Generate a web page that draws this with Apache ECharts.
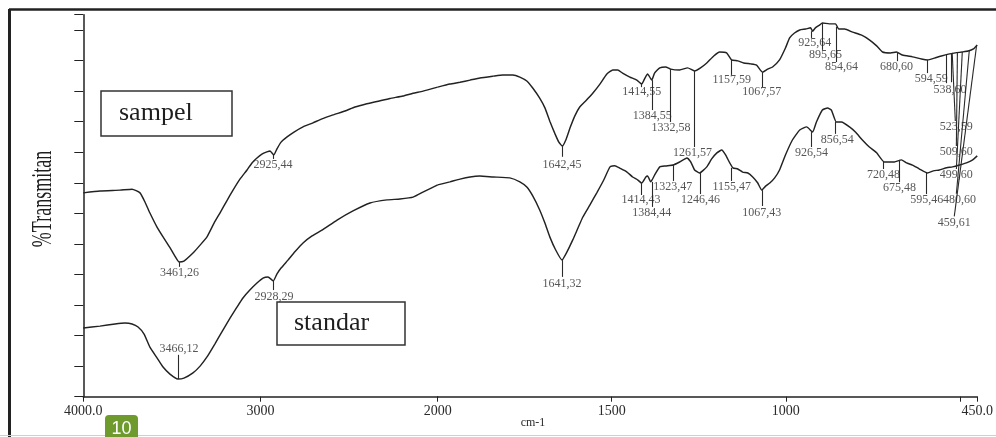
<!DOCTYPE html>
<html>
<head>
<meta charset="utf-8">
<script src="https://cdn.jsdelivr.net/npm/echarts@6/dist/echarts.min.js"></script>
<style>
html,body{margin:0;padding:0;background:#fff;}
#chart{width:996px;height:437px;}
</style>
</head>
<body>
<div id="chart"></div>
<script>
// ---- data (wavenumber cm-1, transmittance in axis-tick units) ----
var sampelHigh = [[4000,6.67],[3906,6.73],[3793,6.76],[3725,6.79],[3680,6.67],[3652,6.37],[3624,6.01],[3584,5.55],[3550,5.23],[3510,4.87],[3483,4.60],[3460,4.41],[3432,4.44],[3381,4.70],[3341,4.96],[3302,5.23],[3262,5.68],[3229,6.01],[3190,6.41],[3155,6.76],[3116,7.12],[3076,7.42],[3048,7.65],[3020,7.81],[2992,7.94],[2964,8.01],[2946,8.04],[2925,7.91],[2907,8.11],[2884,8.33],[2850,8.50],[2811,8.66],[2760,8.83],[2704,8.96],[2653,9.09],[2591,9.22],[2523,9.35],[2467,9.48],[2405,9.58],[2343,9.66],[2269,9.76],[2196,9.84],[2139,9.93],[2083,10.00],[2000,10.13]];
var sampelLow = [[2000,10.13],[1965,10.23],[1936,10.29],[1907,10.36],[1879,10.43],[1841,10.49],[1813,10.53],[1784,10.53],[1764,10.46],[1744,10.33],[1727,10.10],[1707,9.77],[1692,9.45],[1677,8.99],[1663,8.60],[1652,8.33],[1642,8.20],[1632,8.40],[1620,8.79],[1606,9.19],[1592,9.48],[1575,9.68],[1554,9.94],[1534,10.23],[1514,10.56],[1497,10.69],[1483,10.69],[1469,10.59],[1448,10.46],[1428,10.36],[1414,10.23],[1405,10.42],[1397,10.56],[1385,10.36],[1377,10.59],[1362,10.76],[1345,10.79],[1331,10.72],[1305,10.69],[1282,10.76],[1262,10.66],[1245,10.76],[1227,10.92],[1207,11.15],[1190,11.28],[1170,11.25],[1156,11.02],[1138,10.99],[1121,10.92],[1101,10.89],[1084,10.85],[1067,10.62],[1052,10.72],[1038,10.79],[1018,11.02],[1001,11.41],[989,11.74],[975,11.90],[960,12.00],[943,12.03],[929,12.07],[923,11.96],[915,12.07],[903,12.16],[895,12.23],[875,12.20],[857,12.20],[848,12.03],[831,12.03],[808,11.93],[782,11.83],[759,11.67],[739,11.48],[722,11.28],[699,11.25],[682,11.28],[665,11.18],[636,11.12],[610,11.05],[593,11.02],[573,11.08],[553,11.15],[533,11.21],[513,11.25],[493,11.28],[476,11.31],[461,11.38],[450,11.51]];
var standarHigh = [[4000,2.25],[3906,2.31],[3821,2.38],[3765,2.41],[3725,2.38],[3691,2.28],[3657,2.05],[3624,1.62],[3584,1.27],[3550,0.97],[3511,0.74],[3466,0.58],[3432,0.61],[3381,0.78],[3341,1.00],[3302,1.30],[3257,1.73],[3212,2.18],[3172,2.57],[3133,2.93],[3099,3.23],[3060,3.49],[3020,3.72],[2986,3.88],[2958,3.92],[2928,3.79],[2907,4.02],[2884,4.21],[2845,4.47],[2806,4.74],[2760,5.03],[2709,5.26],[2653,5.45],[2568,5.78],[2478,6.08],[2382,6.34],[2286,6.44],[2213,6.47],[2139,6.53],[2072,6.73],[2000,6.93]];
var standarLow = [[2000,6.93],[1965,7.03],[1936,7.12],[1907,7.19],[1879,7.22],[1841,7.19],[1793,7.16],[1764,7.03],[1744,6.86],[1727,6.57],[1707,6.11],[1692,5.68],[1678,5.23],[1661,4.80],[1643,4.47],[1629,4.73],[1612,5.13],[1597,5.52],[1583,5.88],[1563,6.27],[1543,6.67],[1523,7.09],[1505,7.52],[1491,7.56],[1477,7.48],[1457,7.36],[1440,7.19],[1425,7.09],[1414,6.99],[1402,7.19],[1397,7.22],[1388,7.03],[1377,7.25],[1362,7.52],[1345,7.55],[1324,7.58],[1305,7.68],[1284,7.81],[1273,7.68],[1262,7.42],[1248,7.32],[1227,7.52],[1213,7.78],[1198,7.98],[1184,8.07],[1173,7.91],[1161,7.65],[1152,7.49],[1138,7.45],[1124,7.35],[1109,7.32],[1095,7.19],[1081,7.00],[1069,6.76],[1058,6.89],[1046,6.99],[1032,7.16],[1018,7.42],[1001,7.91],[981,8.40],[960,8.73],[940,8.83],[923,8.66],[912,8.99],[895,9.38],[880,9.45],[869,9.38],[855,8.99],[840,8.99],[817,8.83],[800,8.66],[780,8.40],[760,8.17],[739,7.98],[717,7.68],[702,7.68],[688,7.68],[668,7.75],[653,7.65],[636,7.58],[616,7.45],[593,7.32],[576,7.39],[559,7.42],[538,7.49],[521,7.52],[501,7.58],[481,7.65],[463,7.75],[450,7.88]];

// peak annotations: [text, leaderW1, leaderY1, leaderW2, leaderY2, textW, textY]
var peaksHigh = [
  ['3461,26',3461.26,4.41,3461.26,4.25,3457,4.05],
  ['2925,44',2925.44,7.91,2925.44,7.78,2929,7.58],
  ['3466,12',3466.12,0.58,3466.12,1.37,3460,1.56],
  ['2928,29',2928.29,3.79,2928.29,3.49,2924,3.26]
];
var peaksLow = [
  ['1642,45',1642.45,8.20,1642.45,7.85,1643,7.60],
  ['1414,55',1414.55,10.23,1414.55,10.13,1414,9.97],
  ['1384,55',1384.55,10.36,1384.55,9.38,1384,9.20],
  ['1332,58',1332.58,10.72,1332.58,8.99,1330,8.79],
  ['1261,57',1261.57,10.66,1261.57,8.17,1268,7.97],
  ['1157,59',1157.59,11.02,1157.59,10.53,1155,10.36],
  ['1067,57',1067.57,10.62,1067.57,10.13,1069,9.97],
  ['925,64',925.64,11.96,925.64,11.74,917,11.57],
  ['895,65',895.65,12.23,895.65,11.35,886,11.18],
  ['854,64',854.64,12.10,854.64,10.95,840,10.79],
  ['680,60',680.6,11.28,680.6,10.98,682,10.79],
  ['594,59',594.59,11.02,594.59,10.59,582,10.40],
  ['538,60',538.6,11.20,538.6,10.26,528,10.04],
  ['',525,11.24,525,10.29,null,null],
  ['523,59',522,11.25,513,9.02,510,8.83],
  ['509,60',507,11.27,510,8.20,510,8.01],
  ['499,60',493,11.28,510,7.45,510,7.26],
  ['480,60',473,11.31,510,6.64,501,6.44],
  ['459,61',452,11.48,516,5.90,516,5.68],
  ['1641,32',1641.32,4.47,1641.32,3.92,1643,3.69],
  ['1414,43',1414.43,6.99,1414.43,6.60,1416,6.43],
  ['1384,44',1384.44,7.03,1384.44,6.21,1385,6.01],
  ['1323,47',1323.47,7.58,1323.47,7.06,1325,6.86],
  ['1246,46',1246.46,7.32,1246.46,6.63,1245,6.43],
  ['1155,47',1155.47,7.49,1155.47,7.06,1155,6.86],
  ['1067,43',1067.43,6.76,1067.43,6.24,1069,6.01],
  ['926,54',926.54,8.66,926.54,8.17,926,7.97],
  ['856,54',856.54,8.99,856.54,8.60,852,8.40],
  ['720,48',720.48,7.68,720.48,7.45,719,7.26],
  ['675,48',675.48,7.75,675.48,7.02,673,6.83],
  ['595,46',595.46,7.32,595.46,6.63,595,6.44]
];
var xTicksHigh = [4000, 3000];
var xTicksLow = [2000, 1500, 1000, 500, 450];
var xLabelsLow = [2000, 1500, 1000, 450];
var yTicks = [0,1,2,3,4,5,6,7,8,9,10,11,12,12.5];

var SERIF = "'Liberation Serif','DejaVu Serif',serif";
var INK = '#222';

function leaders(arr){
  return arr.map(function(p){return [{coord:[p[1],p[2]]},{coord:[p[3],p[4]]}];});
}
function texts(arr){
  return arr.filter(function(p){return p[0];}).map(function(p){
    return {value:[p[5],p[6]], label:{formatter:p[0]}};
  });
}
var lineStyle = {color:INK, width:1.45};
var mlCommon = {symbol:['none','none'], silent:true, animation:false, label:{show:false},
  lineStyle:{color:'#2a2a2a', width:1.1, type:'solid'}, emphasis:{disabled:true}};
var labelSeries = function(idx, arr){
  return {type:'scatter', xAxisIndex:idx, yAxisIndex:idx, symbolSize:1, silent:true,
    itemStyle:{color:'rgba(0,0,0,0)'}, data:texts(arr), z:5,
    label:{show:true, position:'inside', fontFamily:SERIF, fontSize:12, color:'#2a2a2a'}};
};

var chart = echarts.init(document.getElementById('chart'), null, {renderer:'canvas'});
var axisLineStyle = {color:'#222', width:1.5};
chart.setOption({
  animation:false,
  backgroundColor:'#fff',
  grid:[
    {left:83.3, top:14.7, width:354.4, height:382},
    {left:437.7, top:14.7, width:540.3, height:382}
  ],
  xAxis:[
    {type:'value', gridIndex:0, min:2000, max:4000, inverse:true,
     axisLine:{show:true, lineStyle:axisLineStyle},
     axisTick:{show:true, length:5, customValues:xTicksHigh, lineStyle:{color:'#222'}},
     axisLabel:{show:true, customValues:xTicksHigh, fontFamily:SERIF, fontSize:14, color:'#2a2a2a', margin:8,
       formatter:function(v){return v===4000?'4000.0':String(v);}},
     splitLine:{show:false}},
    {type:'value', gridIndex:1, min:450, max:2000, inverse:true,
     axisLine:{show:true, lineStyle:axisLineStyle},
     axisTick:{show:true, length:5, customValues:xTicksLow, lineStyle:{color:'#222'}},
     axisLabel:{show:true, customValues:xLabelsLow, fontFamily:SERIF, fontSize:14, color:'#2a2a2a', margin:8,
       formatter:function(v){return v===450?'450.0':String(v);}},
     splitLine:{show:false}}
  ],
  yAxis:[
    {type:'value', gridIndex:0, min:0, max:12.5,
     axisLine:{show:true, lineStyle:axisLineStyle},
     axisTick:{show:true, length:9, customValues:yTicks, lineStyle:{color:'#222'}},
     axisLabel:{show:false}, splitLine:{show:false}},
    {type:'value', gridIndex:1, min:0, max:12.5, show:false, splitLine:{show:false}}
  ],
  series:[
    {type:'line', name:'sampel', xAxisIndex:0, yAxisIndex:0, data:sampelHigh, showSymbol:false, smooth:0.15, lineStyle:lineStyle,
     markLine:Object.assign({data:leaders(peaksHigh)}, mlCommon)},
    {type:'line', name:'sampel', xAxisIndex:1, yAxisIndex:1, data:sampelLow, showSymbol:false, smooth:0.15, lineStyle:lineStyle,
     markLine:Object.assign({data:leaders(peaksLow)}, mlCommon)},
    {type:'line', name:'standar', xAxisIndex:0, yAxisIndex:0, data:standarHigh, showSymbol:false, smooth:0.15, lineStyle:lineStyle},
    {type:'line', name:'standar', xAxisIndex:1, yAxisIndex:1, data:standarLow, showSymbol:false, smooth:0.15, lineStyle:lineStyle},
    labelSeries(0, peaksHigh),
    labelSeries(1, peaksLow)
  ],
  graphic:[
    {type:'line', shape:{x1:9, y1:9.5, x2:996, y2:9.5}, style:{stroke:'#222', lineWidth:2.5}},
    {type:'line', shape:{x1:9.5, y1:9, x2:9.5, y2:437}, style:{stroke:'#222', lineWidth:3}},
    {type:'line', shape:{x1:0, y1:435.5, x2:996, y2:435.5}, style:{stroke:'#cfcfcf', lineWidth:1}},
    {type:'rect', shape:{x:101, y:91, width:131, height:45}, style:{fill:'none', stroke:'#333', lineWidth:1.5}},
    {type:'text', x:119, y:113, style:{text:'sampel', font:'26px '+SERIF, fill:'#1e1e1e', textVerticalAlign:'middle'}},
    {type:'rect', shape:{x:277, y:302, width:128, height:43}, style:{fill:'none', stroke:'#333', lineWidth:1.5}},
    {type:'text', x:294, y:323, style:{text:'standar', font:'26px '+SERIF, fill:'#1e1e1e', textVerticalAlign:'middle'}},
    {type:'text', x:43, y:199, rotation:Math.PI/2, scaleX:0.6, style:{text:'%Transmitan', font:'30px '+SERIF, fill:'#1e1e1e', textAlign:'center', textVerticalAlign:'middle'}},
    {type:'text', x:533, y:423, style:{text:'cm-1', font:'12px '+SERIF, fill:'#2a2a2a', textAlign:'center', textVerticalAlign:'middle'}},
    {type:'rect', shape:{x:105, y:415, width:33, height:26, r:[4,4,0,0]}, style:{fill:'#6e9a2e'}},
    {type:'text', x:121.5, y:429, style:{text:'10', font:'18px "Liberation Sans",Arial,sans-serif', fill:'#fff', textAlign:'center', textVerticalAlign:'middle'}}
  ]
});
</script>
</body>
</html>
